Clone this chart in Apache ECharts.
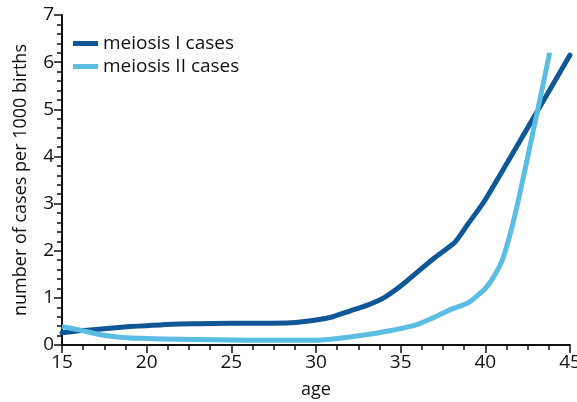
<!DOCTYPE html>
<html>
<head>
<meta charset="utf-8">
<script src="https://cdn.jsdelivr.net/npm/echarts@6/dist/echarts.min.js"></script>
<style>
html,body{margin:0;padding:0;background:#fff;}
#c{width:577px;height:402px;}
</style>
</head>
<body>
<div id="c"></div>
<script>
const seriesNames = ["meiosis I cases", "meiosis II cases"];
const meiosisIAges = [15, 16, 17, 18, 19, 20, 21.5, 23, 25, 27, 28.5, 30, 31, 32, 33, 34, 35, 36, 37, 38.2, 39, 40, 45];
const meiosisIValues = [0.26, 0.3, 0.33, 0.36, 0.39, 0.41, 0.44, 0.45, 0.46, 0.46, 0.47, 0.53, 0.6, 0.72, 0.84, 1.0, 1.25, 1.55, 1.85, 2.18, 2.58, 3.08, 6.15];
const meiosisIIAges = [15, 16, 17, 18, 19, 20, 22, 24, 26, 28, 30, 32, 34, 36, 38, 39, 40, 40.5, 41, 41.5, 42, 43, 43.8];
const meiosisIIValues = [0.39, 0.32, 0.24, 0.18, 0.15, 0.14, 0.12, 0.11, 0.1, 0.1, 0.1, 0.17, 0.28, 0.44, 0.76, 0.9, 1.2, 1.45, 1.8, 2.4, 3.15, 4.83, 6.2];

const FONT = "Open Sans";
const pair = (xs, ys) => xs.map((x, i) => [x, ys[i]]);
const chart = echarts.init(document.getElementById('c'), null, {renderer: 'canvas'});
chart.setOption({
  animation: false,
  backgroundColor: '#ffffff',
  textStyle: {fontFamily: FONT},
  grid: {left: 62, right: 7, top: 15, bottom: 57, containLabel: false, outerBoundsMode: 'none'},
  legend: {
    orient: 'vertical', left: 68, top: 29, itemGap: 4,
    itemWidth: 25, itemHeight: 5, icon: 'rect',
    textStyle: {fontFamily: FONT, fontSize: 19, color: '#111'},
    data: seriesNames
  },
  xAxis: {
    type: 'value', min: 15, max: 45, interval: 5,
    name: 'age', nameLocation: 'middle', nameGap: 36,
    nameTextStyle: {fontFamily: FONT, fontSize: 18, color: '#111'},
    axisLine: {show: true, onZero: false, lineStyle: {color: '#111', width: 2}},
    axisTick: {show: true, inside: false, length: 8, lineStyle: {color: '#111', width: 1.5}},
    minorTick: {show: true, splitNumber: 4, length: 5, lineStyle: {color: '#111', width: 1.5}},
    axisLabel: {fontFamily: FONT, fontSize: 19, color: '#111', margin: 8, showMaxLabel: true},
    splitLine: {show: false}
  },
  yAxis: {
    type: 'value', min: 0, max: 7, interval: 1,
    name: 'number of cases per 1000 births', nameLocation: 'middle', nameGap: 32,
    nameTextStyle: {fontFamily: FONT, fontSize: 18, color: '#111'},
    axisLine: {show: true, onZero: false, lineStyle: {color: '#111', width: 2}},
    axisTick: {show: true, inside: false, length: 8, lineStyle: {color: '#111', width: 1.5}},
    minorTick: {show: true, splitNumber: 5, length: 5, lineStyle: {color: '#111', width: 1.5}},
    axisLabel: {fontFamily: FONT, fontSize: 19, color: '#111', margin: 8},
    splitLine: {show: false}
  },
  series: [
    {name: seriesNames[0], type: 'line', data: pair(meiosisIAges, meiosisIValues),
     smooth: 0.2, showSymbol: false, color: '#0f5797',
     lineStyle: {width: 5, color: '#0f5797', cap: 'round', join: 'round'}},
    {name: seriesNames[1], type: 'line', data: pair(meiosisIIAges, meiosisIIValues),
     smooth: 0.2, showSymbol: false, color: '#5bbde2',
     lineStyle: {width: 5, color: '#5bbde2', cap: 'butt', join: 'round'}}
  ]
});
</script>
</body>
</html>
